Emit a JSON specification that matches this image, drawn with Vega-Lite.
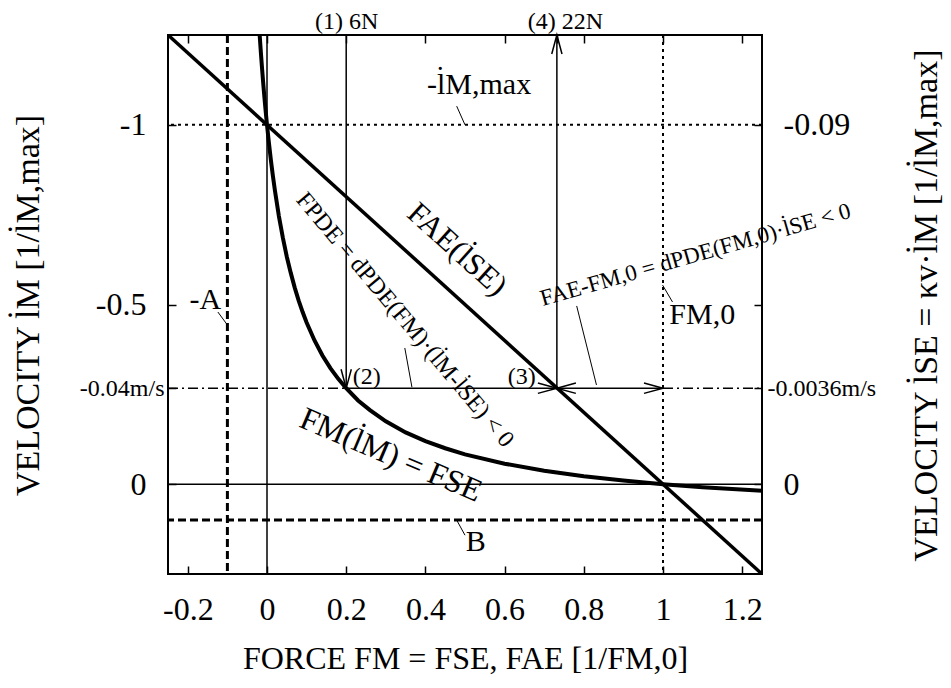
{
  "$schema": "https://vega.github.io/schema/vega-lite/v6.json",
  "width": 594,
  "height": 539,
  "autosize": "none",
  "padding": {"left": 168, "top": 35, "right": 189, "bottom": 114},
  "background": "white",
  "config": {
    "font": "Liberation Serif",
    "view": {"stroke": "black", "strokeWidth": 2},
    "axis": {
      "domain": false, "grid": false,
      "tickColor": "black", "tickWidth": 1.5, "tickSize": -8,
      "labelColor": "black", "labelFont": "Liberation Serif",
      "titleColor": "black", "titleFont": "Liberation Serif", "titleFontWeight": "normal",
      "labelOverlap": false, "labelFlush": false, "labelBound": false
    },
    "text": {"font": "Liberation Serif", "color": "black"}
  },
  "resolve": {"axis": {"x": "independent", "y": "independent"}},
  "layer": [
    {
      "data": {"values": [{"x": 0, "y": 0}]},
      "mark": {"type": "point", "opacity": 0},
      "encoding": {
        "x": {"field": "x", "type": "quantitative",
          "scale": {"domain": [-0.25, 1.25], "nice": false, "zero": false},
          "axis": {"orient": "bottom", "values": [-0.2, 0, 0.2, 0.4, 0.6, 0.8, 1, 1.2],
            "labelExpr": "'' + datum.value",
            "labelFontSize": 32, "labelPadding": 28,
            "title": "FORCE FM = FSE,  FAE [1/FM,0]", "titleFontSize": 32,
            "titleX": 297, "titleY": 94, "titleAlign": "center", "titleBaseline": "alphabetic"}},
        "y": {"field": "y", "type": "quantitative",
          "scale": {"domain": [-1.25, 0.25], "reverse": true, "nice": false, "zero": false},
          "axis": {"orient": "left", "values": [-1, -0.5, 0, -0.267],
            "labelExpr": "datum.value == -0.267 ? '-0.04m/s' : '' + datum.value",
            "labelFontSize": {"condition": {"test": "datum.value == -0.267", "value": 24}, "value": 32},
            "labelPadding": {"condition": {"test": "datum.value == -0.267", "value": 12}, "value": 30},
            "title": "VELOCITY l̇M [1/l̇M,max]", "titleFontSize": 34,
            "titleAngle": 270, "titleX": -130, "titleY": 270, "titleAlign": "center", "titleBaseline": "alphabetic"}}
      }
    },
    {
      "data": {"values": [{"x": 0, "y": 0}]},
      "mark": {"type": "point", "opacity": 0},
      "encoding": {
        "x": {"field": "x", "type": "quantitative",
          "scale": {"domain": [-0.25, 1.25], "nice": false, "zero": false},
          "axis": {"orient": "top", "values": [-0.2, 0, 0.2, 0.4, 0.6, 0.8, 1, 1.2, 0.732],
            "labelExpr": "datum.value == 0.2 ? '(1) 6N' : (datum.value == 0.732 ? '(4) 22N' : '')",
            "labelOffset": {"condition": {"test": "datum.value == 0.732", "value": 8}, "value": 0},
            "labelFontSize": 24, "labelPadding": 10, "title": null}},
        "y": {"field": "y", "type": "quantitative",
          "scale": {"domain": [-1.25, 0.25], "reverse": true, "nice": false, "zero": false},
          "axis": {"orient": "right", "values": [-1, -0.5, 0, -0.267],
            "labelExpr": "datum.value == -0.267 ? '-0.0036m/s' : (datum.value == -1 ? '-0.09' : (datum.value == 0 ? '0' : ''))",
            "labelFontSize": {"condition": {"test": "datum.value == -0.267", "value": 24}, "value": 32},
            "labelPadding": {"condition": {"test": "datum.value == -0.267", "value": 13}, "value": 29},
            "title": "VELOCITY l̇SE = κv·l̇M [1/l̇M,max]", "titleFontSize": 34,
            "titleAngle": 270, "titleX": 174, "titleY": 270, "titleAlign": "center", "titleBaseline": "alphabetic"}}
      }
    },
    {
      "data": {"values": [{"x": 0}]},
      "mark": {"type": "rule", "strokeWidth": 1.5, "color": "black"},
      "encoding": {"x": {"field": "x", "type": "quantitative", "scale": {"domain": [-0.25, 1.25], "nice": false, "zero": false}, "axis": null}}
    },
    {
      "data": {"values": [{"y": 0}]},
      "mark": {"type": "rule", "strokeWidth": 1.5, "color": "black"},
      "encoding": {"y": {"field": "y", "type": "quantitative", "scale": {"domain": [-1.25, 0.25], "reverse": true, "nice": false, "zero": false}, "axis": null}}
    },
    {
      "data": {"values": [{"x": 1}]},
      "mark": {"type": "rule", "strokeWidth": 2, "color": "black", "strokeDash": [3, 4]},
      "encoding": {"x": {"field": "x", "type": "quantitative", "scale": {"domain": [-0.25, 1.25], "nice": false, "zero": false}, "axis": null}}
    },
    {
      "data": {"values": [{"y": -1}]},
      "mark": {"type": "rule", "strokeWidth": 2, "color": "black", "strokeDash": [3, 4]},
      "encoding": {"y": {"field": "y", "type": "quantitative", "scale": {"domain": [-1.25, 0.25], "reverse": true, "nice": false, "zero": false}, "axis": null}}
    },
    {
      "data": {"values": [{"x": -0.1}]},
      "mark": {"type": "rule", "strokeWidth": 3, "color": "black", "strokeDash": [8, 4]},
      "encoding": {"x": {"field": "x", "type": "quantitative", "scale": {"domain": [-0.25, 1.25], "nice": false, "zero": false}, "axis": null}}
    },
    {
      "data": {"values": [{"y": 0.1}]},
      "mark": {"type": "rule", "strokeWidth": 3, "color": "black", "strokeDash": [8, 4]},
      "encoding": {"y": {"field": "y", "type": "quantitative", "scale": {"domain": [-1.25, 0.25], "reverse": true, "nice": false, "zero": false}, "axis": null}}
    },
    {
      "data": {"values": [
        {"x": -0.25, "x2": 0.2, "y": -0.267},
        {"x": 1.0, "x2": 1.25, "y": -0.267}
      ]},
      "mark": {"type": "rule", "strokeWidth": 1.5, "color": "black", "strokeDash": [10, 4, 2, 4]},
      "encoding": {
        "x": {"field": "x", "type": "quantitative", "scale": {"domain": [-0.25, 1.25], "nice": false, "zero": false}, "axis": null},
        "x2": {"field": "x2"},
        "y": {"field": "y", "type": "quantitative", "scale": {"domain": [-1.25, 0.25], "reverse": true, "nice": false, "zero": false}, "axis": null}
      }
    },
    {
      "data": {"values": [
        {"x": 0.2, "x2": 0.2, "y": -1.25, "y2": -0.267},
        {"x": 0.732, "x2": 0.732, "y": -1.25, "y2": -0.267},
        {"x": 0.2, "x2": 0.732, "y": -0.267, "y2": -0.267},
        {"x": 0.732, "x2": 1.0, "y": -0.267, "y2": -0.267}
      ]},
      "mark": {"type": "rule", "strokeWidth": 1.5, "color": "black"},
      "encoding": {
        "x": {"field": "x", "type": "quantitative", "scale": {"domain": [-0.25, 1.25], "nice": false, "zero": false}, "axis": null},
        "x2": {"field": "x2"},
        "y": {"field": "y", "type": "quantitative", "scale": {"domain": [-1.25, 0.25], "reverse": true, "nice": false, "zero": false}, "axis": null},
        "y2": {"field": "y2"}
      }
    },
    {
      "data": {"values": [
        {"x": 0.479, "y": -1.052, "x2": 0.5, "y2": -1.0},
        {"x": -0.124, "y": -0.479, "x2": -0.1, "y2": -0.443},
        {"x": 0.479, "y": 0.1, "x2": 0.5, "y2": 0.142},
        {"x": 0.999, "y": -0.554, "x2": 1.024, "y2": -0.507},
        {"x": 0.348, "y": -0.379, "x2": 0.366, "y2": -0.27},
        {"x": 0.782, "y": -0.496, "x2": 0.832, "y2": -0.276}
      ]},
      "mark": {"type": "rule", "strokeWidth": 1, "color": "black"},
      "encoding": {
        "x": {"field": "x", "type": "quantitative", "scale": {"domain": [-0.25, 1.25], "nice": false, "zero": false}, "axis": null},
        "x2": {"field": "x2"},
        "y": {"field": "y", "type": "quantitative", "scale": {"domain": [-1.25, 0.25], "reverse": true, "nice": false, "zero": false}, "axis": null},
        "y2": {"field": "y2"}
      }
    },
    {
      "data": {"values": [{"x": -0.25, "y": -1.25}, {"x": 1.25, "y": 0.25}]},
      "mark": {"type": "line", "strokeWidth": 3.5, "color": "black", "clip": true},
      "encoding": {
        "x": {"field": "x", "type": "quantitative", "scale": {"domain": [-0.25, 1.25], "nice": false, "zero": false}, "axis": null},
        "y": {"field": "y", "type": "quantitative", "scale": {"domain": [-1.25, 0.25], "reverse": true, "nice": false, "zero": false}, "axis": null}
      }
    },
    {
      "data": {"values": [
        {"F": -0.0185, "v": -1.25}, {"F": -0.017, "v": -1.2253}, {"F": -0.015, "v": -1.194},
        {"F": -0.0125, "v": -1.157}, {"F": -0.01, "v": -1.122}, {"F": -0.0075, "v": -1.089},
        {"F": -0.005, "v": -1.058}, {"F": -0.0025, "v": -1.028}, {"F": 0, "v": -1.0},
        {"F": 0.005, "v": -0.948}, {"F": 0.01, "v": -0.9}, {"F": 0.015, "v": -0.857},
        {"F": 0.02, "v": -0.817}, {"F": 0.03, "v": -0.746}, {"F": 0.04, "v": -0.686},
        {"F": 0.05, "v": -0.633}, {"F": 0.06, "v": -0.588}, {"F": 0.07, "v": -0.547},
        {"F": 0.08, "v": -0.511}, {"F": 0.09, "v": -0.479}, {"F": 0.1, "v": -0.45},
        {"F": 0.12, "v": -0.4}, {"F": 0.14, "v": -0.358}, {"F": 0.16, "v": -0.323},
        {"F": 0.18, "v": -0.293}, {"F": 0.2, "v": -0.267}, {"F": 0.23, "v": -0.233},
        {"F": 0.26, "v": -0.206}, {"F": 0.3, "v": -0.175}, {"F": 0.35, "v": -0.144},
        {"F": 0.4, "v": -0.12}, {"F": 0.45, "v": -0.1}, {"F": 0.5, "v": -0.083},
        {"F": 0.6, "v": -0.057}, {"F": 0.7, "v": -0.0375}, {"F": 0.8, "v": -0.022},
        {"F": 0.9, "v": -0.01}, {"F": 1.0, "v": 0}, {"F": 1.1, "v": 0.0083}, {"F": 1.25, "v": 0.0185}
      ]},
      "mark": {"type": "line", "strokeWidth": 4, "color": "black", "clip": true},
      "encoding": {
        "x": {"field": "F", "type": "quantitative", "scale": {"domain": [-0.25, 1.25], "nice": false, "zero": false}, "axis": null},
        "y": {"field": "v", "type": "quantitative", "scale": {"domain": [-1.25, 0.25], "reverse": true, "nice": false, "zero": false}, "axis": null}
      }
    },
    {
      "data": {"values": [
        {"x": 0.2, "y": -0.267, "dir": "down"},
        {"x": 0.732, "y": -0.267, "dir": "right"},
        {"x": 0.732, "y": -0.267, "dir": "left"},
        {"x": 1.0, "y": -0.267, "dir": "right"},
        {"x": 0.732, "y": -1.25, "dir": "up"}
      ]},
      "mark": {"type": "point", "filled": false, "stroke": "black", "strokeWidth": 1.5, "opacity": 1, "size": 1444},
      "encoding": {
        "x": {"field": "x", "type": "quantitative", "scale": {"domain": [-0.25, 1.25], "nice": false, "zero": false}, "axis": null},
        "y": {"field": "y", "type": "quantitative", "scale": {"domain": [-1.25, 0.25], "reverse": true, "nice": false, "zero": false}, "axis": null},
        "shape": {"field": "dir", "type": "nominal", "legend": null,
          "scale": {"domain": ["right", "left", "down", "up"],
            "range": ["M -1 -0.27 L 0 0 L -1 0.27", "M 1 -0.27 L 0 0 L 1 0.27", "M -0.27 -1 L 0 0 L 0.27 -1", "M -0.27 1 L 0 0 L 0.27 1"]}}
      }
    },
    {
      "data": {"values": [
        {"x": 0.252, "y": -0.298, "label": "(2)"},
        {"x": 0.643, "y": -0.298, "label": "(3)"}
      ]},
      "mark": {"type": "text", "fontSize": 24, "align": "center", "baseline": "middle"},
      "encoding": {
        "x": {"field": "x", "type": "quantitative", "scale": {"domain": [-0.25, 1.25], "nice": false, "zero": false}, "axis": null},
        "y": {"field": "y", "type": "quantitative", "scale": {"domain": [-1.25, 0.25], "reverse": true, "nice": false, "zero": false}, "axis": null},
        "text": {"field": "label"}
      }
    },
    {
      "data": {"values": [
        {"x": -0.156, "y": -0.512, "label": "-A"},
        {"x": 0.527, "y": 0.161, "label": "B"}
      ]},
      "mark": {"type": "text", "fontSize": 30, "align": "center", "baseline": "middle"},
      "encoding": {
        "x": {"field": "x", "type": "quantitative", "scale": {"domain": [-0.25, 1.25], "nice": false, "zero": false}, "axis": null},
        "y": {"field": "y", "type": "quantitative", "scale": {"domain": [-1.25, 0.25], "reverse": true, "nice": false, "zero": false}, "axis": null},
        "text": {"field": "label"}
      }
    },
    {
      "data": {"values": [
        {"x": 0.404, "y": -1.111, "label": "-l̇M,max"},
        {"x": 1.016, "y": -0.471, "label": "FM,0"}
      ]},
      "mark": {"type": "text", "fontSize": 30, "align": "left", "baseline": "middle"},
      "encoding": {
        "x": {"field": "x", "type": "quantitative", "scale": {"domain": [-0.25, 1.25], "nice": false, "zero": false}, "axis": null},
        "y": {"field": "y", "type": "quantitative", "scale": {"domain": [-1.25, 0.25], "reverse": true, "nice": false, "zero": false}, "axis": null},
        "text": {"field": "label"}
      }
    },
    {
      "data": {"values": [{"x": 0.479, "y": -0.652, "label": "FAE(l̇SE)"}]},
      "mark": {"type": "text", "fontSize": 31, "align": "center", "baseline": "middle", "angle": 42},
      "encoding": {
        "x": {"field": "x", "type": "quantitative", "scale": {"domain": [-0.25, 1.25], "nice": false, "zero": false}, "axis": null},
        "y": {"field": "y", "type": "quantitative", "scale": {"domain": [-1.25, 0.25], "reverse": true, "nice": false, "zero": false}, "axis": null},
        "text": {"field": "label"}
      }
    },
    {
      "data": {"values": [{"x": 0.348, "y": -0.457, "label": "FPDE = dPDE(FM)·(l̇M-l̇SE) < 0"}]},
      "mark": {"type": "text", "fontSize": 24, "align": "center", "baseline": "middle", "angle": 50},
      "encoding": {
        "x": {"field": "x", "type": "quantitative", "scale": {"domain": [-0.25, 1.25], "nice": false, "zero": false}, "axis": null},
        "y": {"field": "y", "type": "quantitative", "scale": {"domain": [-1.25, 0.25], "reverse": true, "nice": false, "zero": false}, "axis": null},
        "text": {"field": "label"}
      }
    },
    {
      "data": {"values": [{"x": 0.313, "y": -0.081, "label": "FM(l̇M) = FSE"}]},
      "mark": {"type": "text", "fontSize": 32, "align": "center", "baseline": "middle", "angle": 23},
      "encoding": {
        "x": {"field": "x", "type": "quantitative", "scale": {"domain": [-0.25, 1.25], "nice": false, "zero": false}, "axis": null},
        "y": {"field": "y", "type": "quantitative", "scale": {"domain": [-1.25, 0.25], "reverse": true, "nice": false, "zero": false}, "axis": null},
        "text": {"field": "label"}
      }
    },
    {
      "data": {"values": [{"x": 1.082, "y": -0.638, "label": "FAE-FM,0 = dPDE(FM,0)·l̇SE < 0"}]},
      "mark": {"type": "text", "fontSize": 23, "align": "center", "baseline": "middle", "angle": -16},
      "encoding": {
        "x": {"field": "x", "type": "quantitative", "scale": {"domain": [-0.25, 1.25], "nice": false, "zero": false}, "axis": null},
        "y": {"field": "y", "type": "quantitative", "scale": {"domain": [-1.25, 0.25], "reverse": true, "nice": false, "zero": false}, "axis": null},
        "text": {"field": "label"}
      }
    }
  ]
}
